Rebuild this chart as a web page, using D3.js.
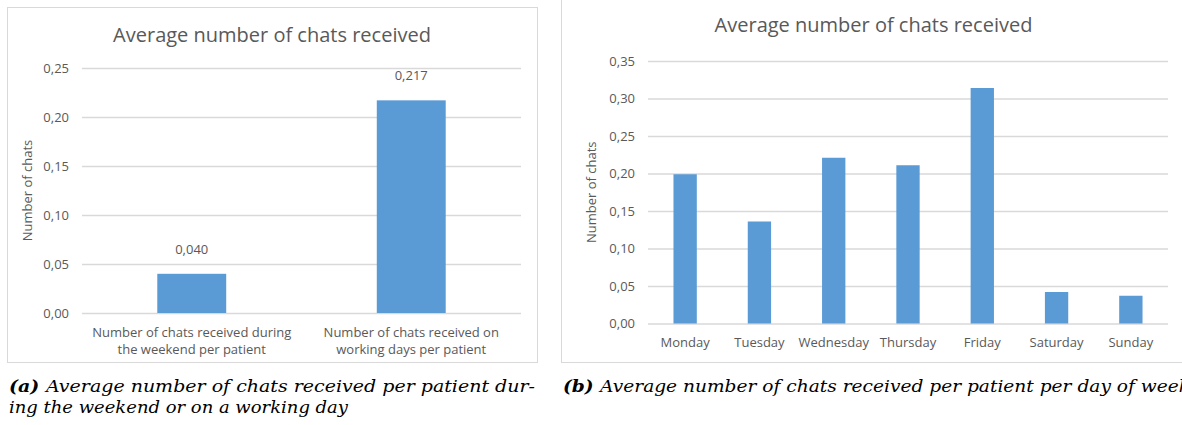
<!DOCTYPE html>
<html>
<head>
<meta charset="utf-8">
<script src="https://cdn.jsdelivr.net/npm/d3@7"></script>
<style>
  body { margin: 0; background: #fff; }
  svg { display: block; }
  .tick text { fill: #595959; font-family: "Open Sans", sans-serif; }
</style>
</head>
<body>
<svg id="chart" width="1182" height="425"></svg>
<script>
// data
let weekCategories = ["Number of chats received during\nthe weekend per patient",
                      "Number of chats received on\nworking days per patient"]
let weekValues = [0.040, 0.217]
let weekTicks = [0, 0.05, 0.10, 0.15, 0.20, 0.25]

let dayCategories = ["Monday", "Tuesday", "Wednesday", "Thursday", "Friday", "Saturday", "Sunday"]
let dayValues = [0.199, 0.136, 0.221, 0.211, 0.314, 0.042, 0.037]
let dayTicks = [0, 0.05, 0.10, 0.15, 0.20, 0.25, 0.30, 0.35]

let chartTitle = "Average number of chats received"
let yTitle = "Number of chats"

let blue = "#5b9bd5", grey = "#595959", gridColor = "#d9d9d9"
let font = "'Open Sans', sans-serif"
let commaFmt = v => d3.format(".2f")(v).replace(".", ",")

let svg = d3.select("#chart")

function drawPanel(opt) {
    let g = svg.append("g")

    // frame round the panel
    g.append("rect")
        .attr("x", opt.box[0] + 0.5).attr("y", opt.box[1] + 0.5)
        .attr("width", opt.box[2] - opt.box[0]).attr("height", opt.box[3] - opt.box[1])
        .attr("fill", "none").attr("stroke", gridColor)

    let x = d3.scaleBand()
        .domain(opt.categories)
        .range([opt.left, opt.right])
        .paddingInner(0.686)
        .paddingOuter(0.343)

    let y = d3.scaleLinear()
        .domain([0, d3.max(opt.ticks)])
        .range([opt.bottom, opt.top])

    // grid + tick labels
    let yAxis = g.append("g")
        .attr("transform", "translate(" + opt.left + ",0)")
        .call(d3.axisLeft(y).tickValues(opt.ticks).tickFormat(commaFmt)
            .tickSize(-(opt.right - opt.left)).tickPadding(13))
    yAxis.select(".domain").remove()
    yAxis.selectAll(".tick line").attr("stroke", gridColor).attr("stroke-width", 1.3)
    yAxis.selectAll(".tick text").style("font-size", "13px")

    g.selectAll(".bar")
        .data(opt.values)
        .enter().append("rect")
        .attr("class", "bar")
        .attr("x", (d, i) => x(opt.categories[i]))
        .attr("y", d => y(d))
        .attr("width", x.bandwidth())
        .attr("height", d => y(0) - y(d))
        .attr("fill", blue)

    if (opt.labels) {
        g.selectAll(".bar-text")
            .data(opt.values)
            .enter().append("text")
            .attr("class", "bar-text")
            .attr("x", (d, i) => x(opt.categories[i]) + x.bandwidth() / 2)
            .attr("y", d => y(d) - 20)
            .attr("text-anchor", "middle")
            .style("font-family", font).style("font-size", "13px")
            .attr("fill", grey)
            .text(d => d3.format(".3f")(d).replace(".", ","))
    }

    // category labels, split on \n
    let cat = g.selectAll(".cat")
        .data(opt.categories)
        .enter().append("text")
        .attr("class", "cat")
        .attr("text-anchor", "middle")
        .attr("transform", d => "translate(" + (x(d) + x.bandwidth() / 2) + "," + opt.catY + ")")
        .style("font-family", font).style("font-size", "13px")
        .attr("fill", grey)
    cat.selectAll("tspan")
        .data(d => d.split("\n"))
        .enter().append("tspan")
        .attr("x", 0)
        .attr("dy", (d, i) => i == 0 ? 0 : 16.6)
        .text(d => d)

    g.append("text")
        .attr("x", (opt.box[0] + opt.box[2]) / 2)
        .attr("y", opt.titleY)
        .attr("text-anchor", "middle")
        .style("font-family", font).style("font-size", "20px")
        .attr("fill", grey)
        .text(chartTitle)

    g.append("text")
        .attr("transform", "translate(" + opt.yTitleX + "," + (opt.top + opt.bottom) / 2 + ") rotate(-90)")
        .attr("text-anchor", "middle")
        .style("font-family", font).style("font-size", "13px")
        .attr("fill", grey)
        .text(yTitle)
}

drawPanel({
    box: [7, 7, 537, 362],
    left: 82, right: 521, top: 68, bottom: 313,
    categories: weekCategories, values: weekValues, ticks: weekTicks,
    labels: true, catY: 337, titleY: 42, yTitleX: 32
})

drawPanel({
    box: [561, -2, 1186, 362],
    left: 648, right: 1168, top: 61, bottom: 323.5,
    categories: dayCategories, values: dayValues, ticks: dayTicks,
    labels: false, catY: 347, titleY: 32, yTitleX: 596
})

// captions under the two panels
let cap = svg.append("g")
    .style("font-family", "'DejaVu Serif', serif")
    .style("font-style", "italic")
    .style("font-size", "16px")
    .attr("fill", "#000")

function caption(xPos, yPos, tag, rest, width) {
    let t = cap.append("text").attr("x", xPos).attr("y", yPos)
    if (width) t.attr("textLength", width).attr("lengthAdjust", "spacingAndGlyphs")
    if (tag) t.append("tspan").style("font-weight", "bold").text(tag + " ")
    t.append("tspan").text(rest)
}
caption(9, 392, "(a)", "Average number of chats received per patient dur-", 526)
caption(9, 413, null, "ing the weekend or on a working day", 339)
caption(563, 392, "(b)", "Average number of chats received per patient per day of week", 627)
</script>
</body>
</html>
